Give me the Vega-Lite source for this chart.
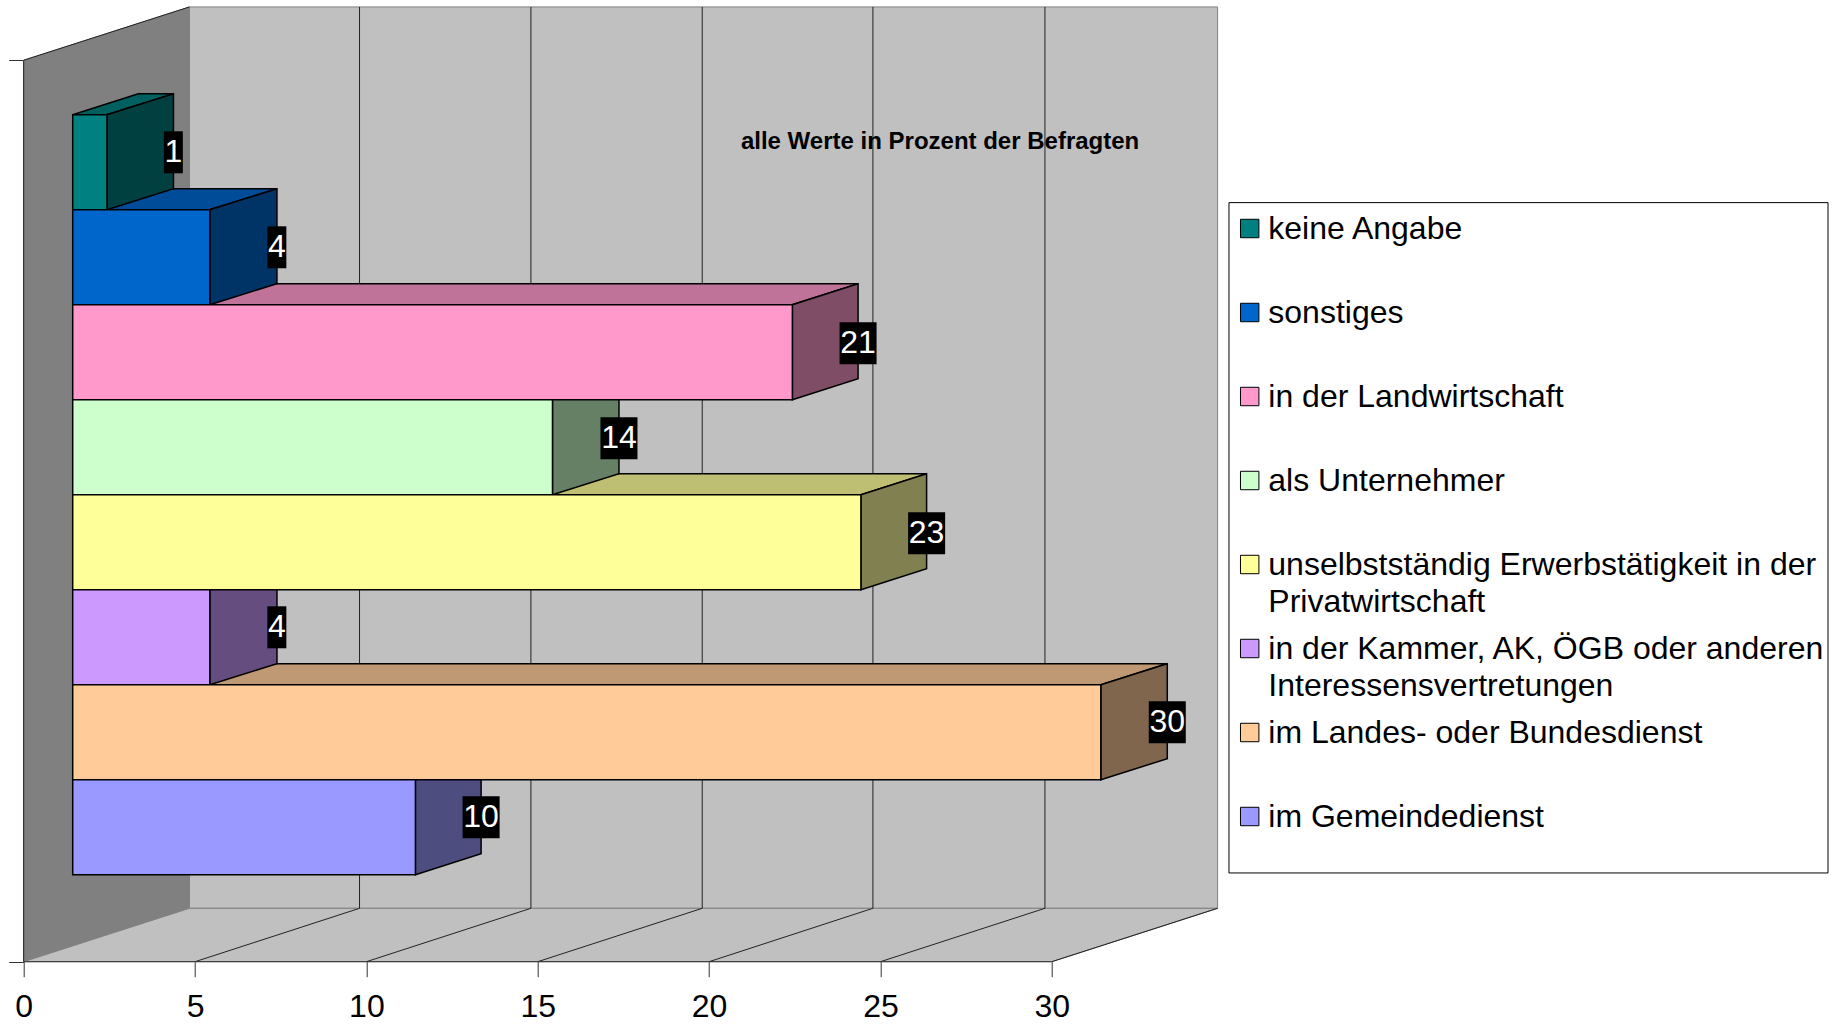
{"$schema":"https://vega.github.io/schema/vega-lite/v6.json","autosize":"none","width":1811.3,"height":961.7,"padding":{"left":23.7,"top":0,"right":0,"bottom":62.3},"background":"white",
"datasets":{
"tops":[
{"k":"im Gemeindedienst","y":1.916,"xa":1.43,"xb":11.43},{"k":"im Gemeindedienst","y":2.137,"xa":3.347,"xb":13.347},
{"k":"im Landes- oder Bundesdienst","y":2.916,"xa":1.43,"xb":31.43},{"k":"im Landes- oder Bundesdienst","y":3.137,"xa":3.347,"xb":33.347},
{"k":"in der Kammer, AK, ÖGB oder anderen Interessensvertretungen","y":3.916,"xa":1.43,"xb":5.43},{"k":"in der Kammer, AK, ÖGB oder anderen Interessensvertretungen","y":4.137,"xa":3.37,"xb":7.37},
{"k":"unselbstständig Erwerbstätigkeit in der Privatwirtschaft","y":4.916,"xa":1.43,"xb":24.43},{"k":"unselbstständig Erwerbstätigkeit in der Privatwirtschaft","y":5.137,"xa":3.347,"xb":26.347},
{"k":"als Unternehmer","y":5.916,"xa":1.43,"xb":15.43},{"k":"als Unternehmer","y":6.137,"xa":3.347,"xb":17.37},
{"k":"in der Landwirtschaft","y":6.916,"xa":1.43,"xb":22.43},{"k":"in der Landwirtschaft","y":7.137,"xa":3.347,"xb":24.347},
{"k":"sonstiges","y":7.916,"xa":1.43,"xb":5.43},{"k":"sonstiges","y":8.137,"xa":3.37,"xb":7.39},
{"k":"keine Angabe","y":8.916,"xa":1.43,"xb":2.43},{"k":"keine Angabe","y":9.137,"xa":3.347,"xb":4.37}],
"sides":[
{"k":"im Gemeindedienst","x":11.43,"ya":0.916,"yb":1.916},{"k":"im Gemeindedienst","x":13.347,"ya":1.137,"yb":2.137},
{"k":"im Landes- oder Bundesdienst","x":31.43,"ya":1.916,"yb":2.916},{"k":"im Landes- oder Bundesdienst","x":33.37,"ya":2.137,"yb":3.137},
{"k":"in der Kammer, AK, ÖGB oder anderen Interessensvertretungen","x":5.43,"ya":2.916,"yb":3.916},{"k":"in der Kammer, AK, ÖGB oder anderen Interessensvertretungen","x":7.39,"ya":3.137,"yb":4.137},
{"k":"unselbstständig Erwerbstätigkeit in der Privatwirtschaft","x":24.43,"ya":3.916,"yb":4.916},{"k":"unselbstständig Erwerbstätigkeit in der Privatwirtschaft","x":26.347,"ya":4.137,"yb":5.137},
{"k":"als Unternehmer","x":15.43,"ya":4.916,"yb":5.916},{"k":"als Unternehmer","x":17.37,"ya":5.137,"yb":6.137},
{"k":"in der Landwirtschaft","x":22.43,"ya":5.916,"yb":6.916},{"k":"in der Landwirtschaft","x":24.347,"ya":6.137,"yb":7.137},
{"k":"sonstiges","x":5.43,"ya":6.916,"yb":7.916},{"k":"sonstiges","x":7.39,"ya":7.137,"yb":8.137},
{"k":"keine Angabe","x":2.43,"ya":7.916,"yb":8.916},{"k":"keine Angabe","x":4.37,"ya":8.137,"yb":9.137}],
"bars":[
{"k":"keine Angabe","wert":1,"xa":1.43,"xb":2.43,"ya":7.916,"yb":8.916,"lx":4.37,"ly":8.52,"bya":8.299,"byb":8.741,"bxa":4.09,"bxb":4.644},
{"k":"sonstiges","wert":4,"xa":1.43,"xb":5.43,"ya":6.916,"yb":7.916,"lx":7.39,"ly":7.52,"bya":7.299,"byb":7.741,"bxa":7.11,"bxb":7.664},
{"k":"in der Landwirtschaft","wert":21,"xa":1.43,"xb":22.43,"ya":5.916,"yb":6.916,"lx":24.347,"ly":6.51,"bya":6.289,"byb":6.731,"bxa":23.807,"bxb":24.887},
{"k":"als Unternehmer","wert":14,"xa":1.43,"xb":15.43,"ya":4.916,"yb":5.916,"lx":17.37,"ly":5.51,"bya":5.289,"byb":5.731,"bxa":16.83,"bxb":17.91},
{"k":"unselbstständig Erwerbstätigkeit in der Privatwirtschaft","wert":23,"xa":1.43,"xb":24.43,"ya":3.916,"yb":4.916,"lx":26.347,"ly":4.51,"bya":4.289,"byb":4.731,"bxa":25.807,"bxb":26.887},
{"k":"in der Kammer, AK, ÖGB oder anderen Interessensvertretungen","wert":4,"xa":1.43,"xb":5.43,"ya":2.916,"yb":3.916,"lx":7.39,"ly":3.52,"bya":3.299,"byb":3.741,"bxa":7.11,"bxb":7.664},
{"k":"im Landes- oder Bundesdienst","wert":30,"xa":1.43,"xb":31.43,"ya":1.916,"yb":2.916,"lx":33.37,"ly":2.52,"bya":2.299,"byb":2.741,"bxa":32.83,"bxb":33.91},
{"k":"im Gemeindedienst","wert":10,"xa":1.43,"xb":11.43,"ya":0.916,"yb":1.916,"lx":13.347,"ly":1.52,"bya":1.299,"byb":1.741,"bxa":12.807,"bxb":13.887}]
},
"layer":[
{"data":{"values":[{"x":4.838,"xe":34.838,"ya":0.562,"yb":10.05}]},"mark":{"type":"rect","fill":"#c0c0c0","stroke":"#808080","strokeWidth":1},
 "encoding":{"x":{"field":"x","type":"quantitative","title":null,"scale":{"domain":[0,52.854],"nice":false,"zero":false},"axis":{"values":[0,5,10,15,20,25,30],"grid":false,"domain":false,"tickSize":15,"tickColor":"#333333","tickWidth":1,"labelFont":"Liberation Sans","labelFontSize":32,"labelColor":"black","labelPadding":15,"labelFlush":false,"labelOverlap":false,"format":"d"}},
 "x2":{"field":"xe"},
 "y":{"field":"ya","type":"quantitative","title":null,"scale":{"domain":[0,10.123],"nice":false,"zero":false},"axis":{"values":[0,9.489],"grid":false,"domain":false,"labels":false,"tickSize":15,"tickColor":"#333333","tickWidth":1}},
 "y2":{"field":"yb"}}},
{"data":{"values":[{"x":0,"ya":0,"yb":9.489},{"x":4.838,"ya":0.562,"yb":10.05}]},"mark":{"type":"area","orient":"vertical","fill":"#808080","stroke":"#808080","strokeWidth":1,"interpolate":"linear"},
 "encoding":{"x":{"field":"x","type":"quantitative","axis":null},"y":{"field":"ya","type":"quantitative","axis":null},"y2":{"field":"yb"}}},
{"data":{"values":[{"y":0,"xa":0,"xb":30},{"y":0.562,"xa":4.838,"xb":34.838}]},"mark":{"type":"area","orient":"horizontal","fill":"#c0c0c0","stroke":"#808080","strokeWidth":1},
 "encoding":{"y":{"field":"y","type":"quantitative","axis":null},"x":{"field":"xa","type":"quantitative","axis":null},"x2":{"field":"xb"}}},
{"data":{"values":[{"x":0,"y":0},{"x":0,"y":9.489},{"x":4.838,"y":10.05}]},"mark":{"type":"line","stroke":"#222222","strokeWidth":1},
 "encoding":{"x":{"field":"x","type":"quantitative","axis":null},"y":{"field":"y","type":"quantitative","axis":null},"order":{"field":"y","type":"quantitative"}}},
{"data":{"values":[{"x":9.8,"ya":0.562,"yb":10.05},{"x":14.8,"ya":0.562,"yb":10.05},{"x":19.8,"ya":0.562,"yb":10.05},{"x":24.78,"ya":0.562,"yb":10.05},{"x":29.8,"ya":0.562,"yb":10.05}]},"mark":{"type":"rule","stroke":"#222222","strokeWidth":1},
 "encoding":{"x":{"field":"x","type":"quantitative","axis":null},"y":{"field":"ya","type":"quantitative","axis":null},"y2":{"field":"yb"}}},
{"data":{"values":[{"g":5,"x":5,"y":0},{"g":5,"x":9.8,"y":0.562},{"g":10,"x":10,"y":0},{"g":10,"x":14.8,"y":0.562},{"g":15,"x":15,"y":0},{"g":15,"x":19.8,"y":0.562},{"g":20,"x":20,"y":0},{"g":20,"x":24.78,"y":0.562},{"g":25,"x":25,"y":0},{"g":25,"x":29.8,"y":0.562},{"g":30,"x":30,"y":0},{"g":30,"x":34.838,"y":0.562}]},"mark":{"type":"line","stroke":"#222222","strokeWidth":1},
 "encoding":{"x":{"field":"x","type":"quantitative","axis":null},"y":{"field":"y","type":"quantitative","axis":null},"detail":{"field":"g"}}},
{"data":{"values":[{"xa":0,"xb":30,"y":0}]},"mark":{"type":"rule","stroke":"#333333","strokeWidth":1},
 "encoding":{"x":{"field":"xa","type":"quantitative","axis":null},"x2":{"field":"xb"},"y":{"field":"y","type":"quantitative","axis":null}}},
{"data":{"name":"tops"},"mark":{"type":"area","orient":"horizontal","stroke":"black","strokeWidth":1.5},
 "encoding":{"y":{"field":"y","type":"quantitative","axis":null},"x":{"field":"xa","type":"quantitative","axis":null},"x2":{"field":"xb"},
 "fill":{"field":"k","type":"nominal","legend":null,"scale":{"domain":["keine Angabe","sonstiges","in der Landwirtschaft","als Unternehmer","unselbstständig Erwerbstätigkeit in der Privatwirtschaft","in der Kammer, AK, ÖGB oder anderen Interessensvertretungen","im Landes- oder Bundesdienst","im Gemeindedienst"],"range":["#006060","#004c99","#bf7399","#99bf99","#bfbf73","#9973bf","#bf9973","#7373bf"]}}}},
{"data":{"name":"sides"},"mark":{"type":"area","orient":"vertical","stroke":"black","strokeWidth":1.5},
 "encoding":{"x":{"field":"x","type":"quantitative","axis":null},"y":{"field":"ya","type":"quantitative","axis":null},"y2":{"field":"yb"},
 "fill":{"field":"k","type":"nominal","legend":null,"scale":{"domain":["keine Angabe","sonstiges","in der Landwirtschaft","als Unternehmer","unselbstständig Erwerbstätigkeit in der Privatwirtschaft","in der Kammer, AK, ÖGB oder anderen Interessensvertretungen","im Landes- oder Bundesdienst","im Gemeindedienst"],"range":["#004040","#003366","#804d66","#668066","#808050","#664d80","#80664d","#4d4d80"]}}}},
{"data":{"name":"bars"},"mark":{"type":"rect","stroke":"black","strokeWidth":1.5},
 "encoding":{"x":{"field":"xa","type":"quantitative","axis":null},"x2":{"field":"xb"},"y":{"field":"ya","type":"quantitative","axis":null},"y2":{"field":"yb"},
 "fill":{"field":"k","type":"nominal","title":null,"scale":{"domain":["keine Angabe","sonstiges","in der Landwirtschaft","als Unternehmer","unselbstständig Erwerbstätigkeit in der Privatwirtschaft","in der Kammer, AK, ÖGB oder anderen Interessensvertretungen","im Landes- oder Bundesdienst","im Gemeindedienst"],"range":["#008080","#0066cc","#ff99cc","#ccffcc","#ffff99","#cc99ff","#ffcc99","#9999ff"]},
 "legend":{"orient":"none","legendX":1210,"legendY":208.5,"padding":0,"symbolType":"square","symbolSize":340,"symbolStrokeColor":"black","symbolStrokeWidth":1,"symbolOpacity":1,"labelFont":"Liberation Sans","labelFontSize":32,"labelColor":"black","labelOffset":2.6,"labelLimit":600,"clipHeight":84,"rowPadding":0,"labelExpr":"datum.label == 'unselbstständig Erwerbstätigkeit in der Privatwirtschaft' ? ['unselbstständig Erwerbstätigkeit in der','Privatwirtschaft'] : datum.label == 'in der Kammer, AK, ÖGB oder anderen Interessensvertretungen' ? ['in der Kammer, AK, ÖGB oder anderen','Interessensvertretungen'] : datum.label","encoding":{"labels":{"lineHeight":{"value":37.5},"y":{"value":20}},"symbols":{"y":{"value":20}}}}}}},
{"data":{"values":[{"xa":35.17,"xb":52.65,"ya":0.934,"yb":7.99}]},"mark":{"type":"rect","fill":"white","stroke":"black","strokeWidth":1},
 "encoding":{"x":{"field":"xa","type":"quantitative","axis":null},"x2":{"field":"xb"},"y":{"field":"ya","type":"quantitative","axis":null},"y2":{"field":"yb"}}},
{"data":{"name":"bars"},"mark":{"type":"rect","fill":"black"},
 "encoding":{"x":{"field":"bxa","type":"quantitative","axis":null},"x2":{"field":"bxb"},"y":{"field":"bya","type":"quantitative","axis":null},"y2":{"field":"byb"}}},
{"data":{"name":"bars"},"mark":{"type":"text","color":"white","font":"Liberation Sans","fontSize":32,"align":"center","baseline":"middle"},
 "encoding":{"x":{"field":"lx","type":"quantitative","axis":null},"y":{"field":"ly","type":"quantitative","axis":null},"text":{"field":"wert","type":"quantitative"}}},
{"data":{"values":[{"x":26.74,"y":8.625,"t":"alle Werte in Prozent der Befragten"}]},"mark":{"type":"text","color":"black","font":"Liberation Sans","fontWeight":"bold","fontSize":24,"align":"center","baseline":"middle"},
 "encoding":{"x":{"field":"x","type":"quantitative","axis":null},"y":{"field":"y","type":"quantitative","axis":null},"text":{"field":"t"}}}
],
"resolve":{"scale":{"fill":"independent"},"axis":{"x":"independent","y":"independent"}},
"config":{"view":{"stroke":null}}}
